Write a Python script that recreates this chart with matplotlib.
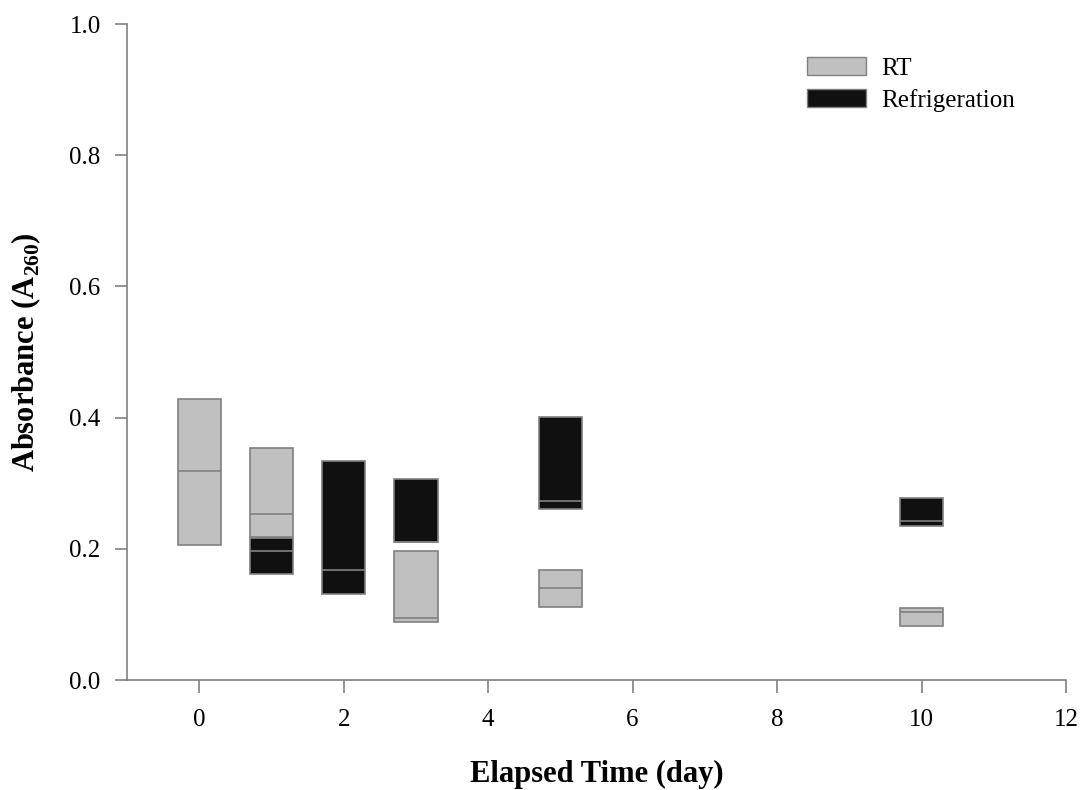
import numpy as np
import matplotlib
matplotlib.use('Agg')
import matplotlib.pyplot as plt
import matplotlib.patches as mpatches

plt.rcParams['font.family'] = ['Liberation Serif', 'DejaVu Serif']
plt.rcParams['mathtext.fontset'] = 'custom'
plt.rcParams['mathtext.rm'] = 'Liberation Serif'
plt.rcParams['mathtext.bf'] = 'Liberation Serif:bold'

# box stats: day, lower quartile, median, upper quartile
rt_days = [0, 1, 3, 5, 10]
rt_q1 = [0.206, 0.218, 0.088, 0.111, 0.083]
rt_med = [0.318, 0.253, 0.094, 0.141, 0.103]
rt_q3 = [0.428, 0.353, 0.196, 0.168, 0.110]

ref_days = [1, 2, 3, 5, 10]
ref_q1 = [0.162, 0.131, 0.210, 0.261, 0.235]
ref_med = [0.197, 0.167, 0.210, 0.273, 0.242]
ref_q3 = [0.217, 0.334, 0.307, 0.401, 0.277]

edge = '#808080'
box_w = 0.6

fig = plt.figure(figsize=(10.82, 7.90), dpi=100)
ax = fig.add_axes([0.1174, 0.1392, 0.8678, 0.8304])

def draw_boxes(ax, days, q1, med, q3, color):
    days = np.array(days, dtype=float)
    q1, med, q3 = np.array(q1), np.array(med), np.array(q3)
    ax.bar(days, q3 - q1, bottom=q1, width=box_w, color=color,
           edgecolor=edge, linewidth=1.2, zorder=2)
    ax.hlines(med, days - box_w / 2, days + box_w / 2, colors=edge,
              linewidth=1.2, zorder=3)

draw_boxes(ax, rt_days, rt_q1, rt_med, rt_q3, '#c0c0c0')
draw_boxes(ax, ref_days, ref_q1, ref_med, ref_q3, '#101010')

ax.set_xlim(-1, 12)
ax.set_ylim(0, 1.0)
ax.set_xticks(np.arange(0, 13, 2))
ax.set_yticks(np.arange(0, 1.01, 0.2))
ax.set_yticklabels(['{:.1f}'.format(v) for v in np.arange(0, 1.01, 0.2)])

for s in ['top', 'right']:
    ax.spines[s].set_visible(False)
for s in ['left', 'bottom']:
    ax.spines[s].set_color(edge)
    ax.spines[s].set_linewidth(1.2)
ax.tick_params(axis='both', colors=edge, labelcolor='black', labelsize=18,
               length=9, width=1.2, direction='out')
ax.tick_params(axis='x', pad=12)
ax.tick_params(axis='y', pad=10)

ax.set_xlabel('Elapsed Time (day)', fontsize=22, fontweight='bold', labelpad=21)
ax.set_ylabel(r'Absorbance (A$_{\mathbf{260}}$)', fontsize=22, fontweight='bold',
              labelpad=19)

handles = [mpatches.Patch(facecolor='#c0c0c0', edgecolor=edge, label='RT'),
           mpatches.Patch(facecolor='#101010', edgecolor=edge, label='Refrigeration')]
ax.legend(handles=handles, loc='upper left',
          bbox_to_anchor=(807 / 1082, 1 - 57 / 790), bbox_transform=fig.transFigure,
          frameon=False, fontsize=18, handlelength=2.36, handleheight=0.76,
          handletextpad=0.6, labelspacing=0.35, borderpad=0, borderaxespad=0)

fig.savefig('out.png', dpi=100)
